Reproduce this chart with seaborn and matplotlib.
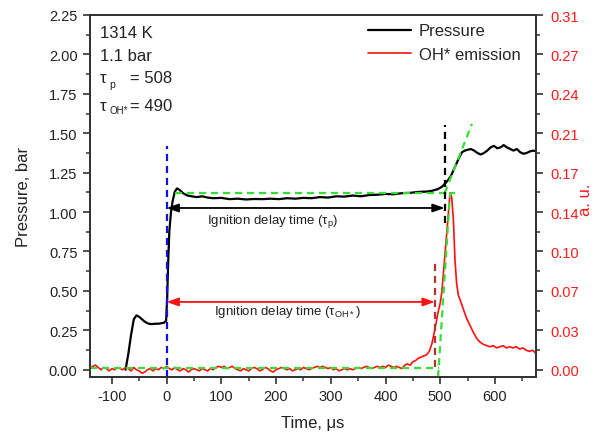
import numpy as np
import pandas as pd
import matplotlib
matplotlib.use("Agg")
import matplotlib.pyplot as plt
import seaborn as sns
from matplotlib.ticker import MultipleLocator, FixedLocator, FixedFormatter

# ---------------- data ----------------
p_time = [-75, -70, -65, -60, -55, -50, -45, -40, -35, -30,
          -25, -20, -15, -10, -5, -1, 1, 3, 5, 8,
          11, 15, 19, 24, 30, 38, 46, 55, 65, 75,
          85, 100, 115, 130, 145, 160, 175, 190, 205, 220,
          235, 250, 265, 280, 295, 310, 325, 340, 355, 370,
          385, 400, 415, 430, 445, 460, 475, 485, 495, 503,
          510, 516, 521, 526, 530, 535, 540, 545, 550, 556,
          562, 568, 574, 580, 586, 592, 598, 604, 610, 616,
          622, 628, 634, 640, 646, 652, 658, 664, 670, 675]
p_val = [0.00, 0.10, 0.22, 0.32, 0.345, 0.335, 0.32, 0.305, 0.295, 0.29,
         0.29, 0.292, 0.292, 0.295, 0.298, 0.31, 0.45, 0.70, 0.88, 1.00,
         1.07, 1.13, 1.15, 1.14, 1.12, 1.105, 1.10, 1.095, 1.10, 1.092,
         1.088, 1.09, 1.082, 1.085, 1.08, 1.083, 1.082, 1.085, 1.082, 1.088,
         1.085, 1.09, 1.088, 1.095, 1.092, 1.10, 1.098, 1.105, 1.10, 1.108,
         1.11, 1.115, 1.113, 1.12, 1.122, 1.128, 1.13, 1.135, 1.145, 1.16,
         1.185, 1.21, 1.24, 1.28, 1.31, 1.35, 1.38, 1.39, 1.395, 1.40,
         1.39, 1.375, 1.365, 1.375, 1.39, 1.41, 1.42, 1.405, 1.41, 1.425,
         1.41, 1.40, 1.39, 1.40, 1.38, 1.37, 1.375, 1.385, 1.39, 1.385]

# OH* emission (a.u.): baseline sampled every 5 us from -140 to 430, then the ignition peak
oh_base_time = list(range(-140, 435, 5))
oh_base_val = [0.001, 0.003, 0.004, 0.002, 0.000, 0.002, 0.001, -0.001, 0.001, 0.000,
               0.002, 0.001, 0.000, 0.002, 0.001, -0.001, 0.002, 0.000, -0.001, -0.003,
               -0.002, 0.000, 0.001, -0.001, 0.001, 0.000, 0.002, 0.001, 0.003, 0.001,
               0.000, 0.002, 0.000, -0.001, 0.001, 0.000, -0.002, 0.000, 0.001, 0.000,
               -0.001, 0.001, 0.000, -0.001, 0.001, 0.000, 0.002, 0.003, 0.002, 0.003,
               0.001, 0.002, 0.003, 0.001, 0.000, -0.001, 0.001, 0.000, -0.001, 0.001,
               0.002, 0.001, -0.001, 0.000, 0.002, 0.001, -0.001, -0.002, 0.000, 0.001,
               0.002, 0.001, 0.000, 0.001, -0.001, 0.000, 0.001, 0.000, 0.002, 0.001,
               0.000, 0.001, 0.002, 0.003, 0.002, 0.003, 0.002, 0.001, 0.002, 0.000,
               0.001, -0.001, 0.000, 0.001, 0.000, 0.001, 0.000, 0.001, 0.002, 0.001,
               0.002, 0.003, 0.002, 0.001, 0.002, 0.003, 0.002, 0.003, 0.002, 0.004,
               0.003, 0.002, 0.003, 0.002, 0.001]
oh_peak_time = [435, 440, 445, 450, 455, 460, 465, 470, 475, 480, 485, 490,
                493, 496, 500, 503, 506, 509, 512, 515, 518, 521, 524, 527, 530,
                533, 537, 542, 548, 554, 560, 567, 573, 579, 585, 591, 597, 603,
                609, 615, 621, 627, 633, 639, 645, 651, 657, 663, 669, 675]
oh_peak_val = [0.004, 0.005, 0.004, 0.007, 0.008, 0.010, 0.011, 0.012, 0.013, 0.016, 0.023, 0.035,
               0.042, 0.050, 0.058, 0.068, 0.085, 0.102, 0.118, 0.135, 0.154, 0.150, 0.131, 0.095, 0.075,
               0.065, 0.060, 0.053, 0.045, 0.039, 0.033, 0.027, 0.024, 0.022, 0.021, 0.020, 0.021, 0.019,
               0.020, 0.021, 0.019, 0.020, 0.019, 0.020, 0.018, 0.019, 0.017, 0.016, 0.017, 0.014]

tau_p = 508
tau_oh = 490
T5 = "1314 K"
P5 = "1.1 bar"

x_ticks = [-100, 0, 100, 200, 300, 400, 500, 600]
p_ticks = [0.00, 0.25, 0.50, 0.75, 1.00, 1.25, 1.50, 1.75, 2.00, 2.25]
au_tick_labels = ["0.00", "0.03", "0.07", "0.10", "0.14", "0.17", "0.21", "0.24", "0.27", "0.31"]

# pressure tangents (bar) and OH* tangents (a.u.)
p_flat_x, p_flat_y = [15, 527], [1.12, 1.12]
p_slope_x, p_slope_y = [508, 558], [1.12, 1.56]
oh_flat_x, oh_flat_y = [-140, 497], [0.0015, 0.0015]
oh_slope_x, oh_slope_y = [496, 518], [-0.0065, 0.154]

# ---------------- style ----------------
sns.set_style("ticks")
plt.rcParams["font.family"] = ["Liberation Sans", "DejaVu Sans"]
plt.rcParams["mathtext.fontset"] = "custom"
plt.rcParams["mathtext.rm"] = "Liberation Sans"
plt.rcParams["mathtext.it"] = "Liberation Sans:italic"

W, H = 594, 435
fig = plt.figure(figsize=(W / 100, H / 100), dpi=100)
ax = fig.add_axes([90 / W, 1 - 378 / H, 446 / W, 362 / H])
ax2 = ax.twinx()

k = 0.1372  # a.u. per bar (axis alignment)
ylo, yhi = -0.046, 2.25
ax.set_xlim(-140, 675)
ax.set_ylim(ylo, yhi)
ax2.set_ylim(ylo * k, yhi * k)

df_p = pd.DataFrame({"t": p_time, "p": p_val})
df_oh = pd.DataFrame({"t": oh_base_time + oh_peak_time, "oh": oh_base_val + oh_peak_val})

sns.lineplot(data=df_p, x="t", y="p", ax=ax, color="black", lw=1.6,
             estimator=None, sort=False, legend=False)
sns.lineplot(data=df_oh, x="t", y="oh", ax=ax2, color="#ff1010", lw=1.2,
             estimator=None, sort=False, legend=False)

green = "#33e033"
dash = (0, (3.2, 2.2))
# OH tangents (a.u.)
ax2.plot(oh_flat_x, oh_flat_y, color=green, lw=1.6, ls=dash)
ax2.plot(oh_slope_x, oh_slope_y, color=green, lw=1.6, ls=dash)
# pressure tangents (bar), drawn above the emission trace
ax2.plot(p_flat_x, p_flat_y, color=green, lw=1.6, ls=dash, transform=ax.transData)
ax2.plot(p_slope_x, p_slope_y, color=green, lw=1.6, ls=dash, transform=ax.transData)
# time markers
ax2.plot([0, 0], [ylo, 1.42], color="#1010e0", lw=1.6, ls=dash, transform=ax.transData)
ax2.plot([tau_p, tau_p], [0.93, 1.55], color="black", lw=1.6, ls=dash, transform=ax.transData)
ax2.plot([tau_oh, tau_oh], [0.02, 0.69], color="#b83030", lw=1.6, ls=dash, transform=ax.transData)

# arrows
ax.annotate("", xy=(0, 1.026), xytext=(tau_p, 1.026),
            arrowprops=dict(arrowstyle="<|-|>,head_length=0.7,head_width=0.25",
                            color="black", lw=1.3, shrinkA=0, shrinkB=0))
ax.annotate("", xy=(0, 0.43), xytext=(tau_oh, 0.43),
            arrowprops=dict(arrowstyle="<|-|>,head_length=0.7,head_width=0.25",
                            color="#ff1010", lw=1.3, shrinkA=0, shrinkB=0))
ax.text(194, 0.947, r"Ignition delay time (τ$_\mathrm{p}$)", ha="center", va="center",
        fontsize=9.5, color="#222222")
ax.text(221, 0.372, r"Ignition delay time (τ$_\mathrm{OH*}$)", ha="center", va="center",
        fontsize=9.5, color="#222222")

# condition text
def axx(px):
    return (px - 90) / 446
def axy(py):
    return (378 - py) / 362
tc = "#222222"
ax.text(axx(100), axy(37.7), T5, transform=ax.transAxes, fontsize=12, va="baseline", color=tc)
ax.text(axx(100), axy(61), P5, transform=ax.transAxes, fontsize=12, va="baseline", color=tc)
ax.text(axx(100), axy(83.3), "τ", transform=ax.transAxes, fontsize=12, va="baseline", color=tc)
ax.text(axx(109.5), axy(87.5), "p", transform=ax.transAxes, fontsize=7.5, va="baseline", color=tc)
ax.text(axx(130), axy(83.3), f"= {tau_p}", transform=ax.transAxes, fontsize=12, va="baseline", color=tc)
ax.text(axx(100), axy(111), "τ", transform=ax.transAxes, fontsize=12, va="baseline", color=tc)
ax.text(axx(109.5), axy(114.5), "OH*", transform=ax.transAxes, fontsize=7, va="baseline", color=tc)
ax.text(axx(130), axy(111), f"= {tau_oh}", transform=ax.transAxes, fontsize=12, va="baseline", color=tc)

# axes formatting
ax.xaxis.set_major_locator(FixedLocator(x_ticks))
ax.xaxis.set_minor_locator(MultipleLocator(50))
ax.yaxis.set_major_locator(FixedLocator(p_ticks))
ax.yaxis.set_minor_locator(MultipleLocator(0.125))
ax.set_yticklabels([f"{v:.2f}" for v in p_ticks])
ax.set_xticklabels([str(v) for v in x_ticks])
ax2.yaxis.set_major_locator(FixedLocator([v * k for v in p_ticks]))
ax2.yaxis.set_major_formatter(FixedFormatter(au_tick_labels))
ax2.yaxis.set_minor_locator(FixedLocator([(v + 0.125) * k for v in p_ticks[:-1]]))

spc = "#333333"
for a in (ax, ax2):
    for s in a.spines.values():
        s.set_linewidth(1.3)
        s.set_color(spc)
ax.tick_params(axis="both", which="major", direction="out", length=5, width=1.2,
               color=spc, labelsize=10.5, labelcolor="#222222", pad=4)
ax.tick_params(axis="both", which="minor", direction="out", length=3, width=1.1, color=spc)
ax.tick_params(axis="y", right=False)
ax.tick_params(axis="x", top=False, which="both")
ax2.tick_params(axis="y", which="major", direction="out", length=5, width=1.2,
                color=spc, labelsize=10.5, labelcolor="#ff1a1a", pad=5)
ax2.tick_params(axis="y", which="minor", direction="out", length=3, width=1.1, color=spc)

ax.set_xlabel("Time, μs", fontsize=12, color="#222222", labelpad=8)
ax.set_ylabel("Pressure, bar", fontsize=12, color="#222222", labelpad=13)
ax2.set_ylabel("")
fig.text(585 / W, 1 - 200 / H, "a. u.", rotation=90, ha="center", va="center",
         fontsize=12, color="#ff1a1a")

# legend
h1 = ax.lines[0]
h2 = ax2.lines[0]
leg = ax2.legend([h1, h2], ["Pressure", "OH* emission"], loc="upper left",
                 bbox_to_anchor=(0.605, 1.0), frameon=False, fontsize=12,
                 handlelength=2.6, handletextpad=0.45, borderaxespad=0.0,
                 borderpad=0.5, labelspacing=0.5)

fig.savefig("out.png", dpi=100)
